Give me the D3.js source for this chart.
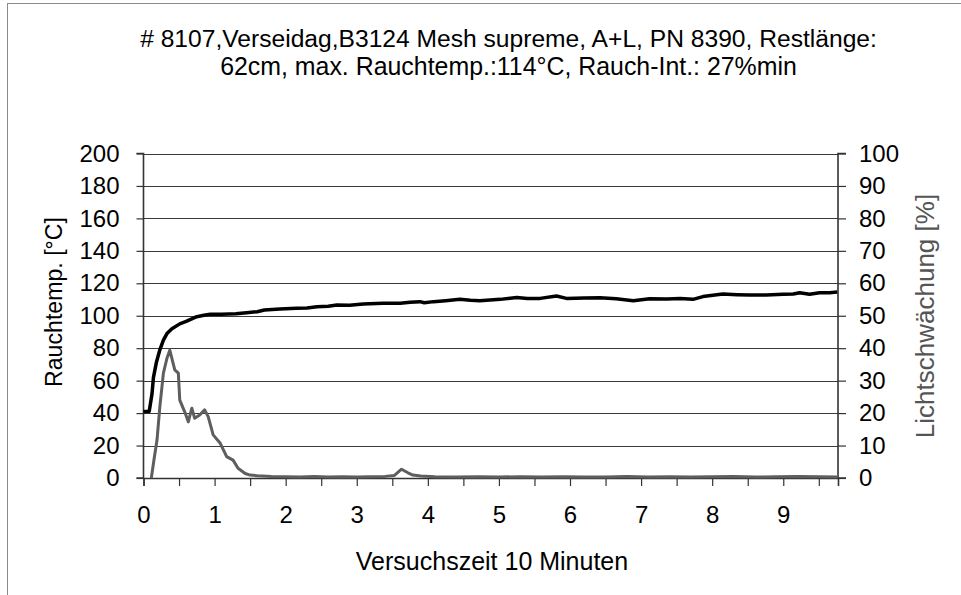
<!DOCTYPE html>
<html><head><meta charset="utf-8">
<script src="https://cdn.jsdelivr.net/npm/d3@7"></script>
<style>
html,body{margin:0;padding:0;background:#fff;}
text{font-family:"Liberation Sans",Arial,sans-serif;}
</style></head>
<body>
<svg id="c" width="961" height="595"></svg>
<script>
// ---- data ----
const titleLines = ["# 8107,Verseidag,B3124 Mesh supreme, A+L, PN 8390, Restlänge:",
                    "62cm, max. Rauchtemp.:114°C,  Rauch-Int.: 27%min"];
const xLabel = "Versuchszeit 10 Minuten";
const yLeftLabel = "Rauchtemp. [°C]";
const yRightLabel = "Lichtschwächung [%]";
const xTickLabels = [0,1,2,3,4,5,6,7,8,9];
const yLeftTicks = [0,20,40,60,80,100,120,140,160,180,200];
const yRightTicks = [0,10,20,30,40,50,60,70,80,90,100];

// Rauchtemperatur [°C] : [minutes, value]
const tempTime = [0,0.08,0.12,0.14,0.18,0.23,0.28,0.33,0.4,0.51,0.6,0.75,0.85,0.94,1.1,1.3,1.45,1.6,1.7,1.92,2.15,2.3,2.44,2.6,2.72,2.9,3.09,3.37,3.61,3.75,3.89,3.95,4.08,4.25,4.45,4.6,4.73,5.02,5.25,5.4,5.58,5.81,5.95,6.2,6.42,6.65,6.89,7.12,7.36,7.55,7.73,7.87,8.15,8.35,8.53,8.76,9.0,9.14,9.23,9.37,9.51,9.65,9.76];
const tempValues = [41,41,52,62,71,79,85,89,92,95,96.5,99.4,100.3,101,101,101.2,101.9,102.5,103.5,104.2,104.6,104.8,105.6,105.8,106.6,106.5,107.2,107.7,107.7,108.3,108.7,108,108.7,109.3,110.1,109.6,109.3,110.1,111.3,110.6,110.7,112.2,110.7,111,111.1,110.5,109.3,110.5,110.3,110.6,110.1,111.8,113.4,113,112.8,112.8,113.2,113.4,114.2,113.3,114.2,114.2,114.6];

// Lichtschwächung [%]
const lightTime = [0.11,0.15,0.19,0.23,0.28,0.33,0.37,0.44,0.49,0.51,0.58,0.63,0.68,0.72,0.79,0.86,0.91,0.98,1.08,1.17,1.26,1.33,1.43,1.5,1.6,1.8,2.0,2.2,2.4,2.6,2.8,3.0,3.2,3.4,3.53,3.63,3.72,3.79,3.9,4.1,4.4,4.7,5.0,5.3,5.6,5.9,6.2,6.5,6.8,7.1,7.4,7.7,8.0,8.3,8.6,8.9,9.2,9.5,9.76];
const lightValues = [0,6,11.7,22,32.3,36.9,39.4,33.3,32.3,24,20.4,17.3,21.5,18.4,19.4,21,18.9,13.3,10.7,6.6,5.5,3,1.4,0.9,0.7,0.5,0.4,0.3,0.5,0.3,0.4,0.3,0.4,0.5,0.8,2.7,1.6,0.9,0.6,0.4,0.3,0.4,0.3,0.4,0.3,0.4,0.3,0.3,0.5,0.3,0.4,0.3,0.4,0.5,0.3,0.4,0.5,0.4,0.3];

// ---- layout ----
const svg = d3.select("#c");
const L = 143.5, R = 838, T = 153.5, B = 478;
const x = d3.scaleLinear().domain([0, 9.77]).range([L, R]);
const yL = d3.scaleLinear().domain([0, 200]).range([B, T]);
const yR = d3.scaleLinear().domain([0, 100]).range([B, T]);

// fit font size so the natural text width matches a target width
function fit(sel, target, maxSize){
  sel.attr("font-size", 20);
  const len = sel.node().getComputedTextLength();
  let s = 20 * target / len;
  if (maxSize) s = Math.min(s, maxSize);
  sel.attr("font-size", s);
  return sel;
}

// outer frame
svg.append("rect").attr("x",7.5).attr("y",3.5).attr("width",970).attr("height",600)
  .attr("fill","none").attr("stroke","#8a8a8a").attr("stroke-width",1);

// gridlines
svg.append("g").selectAll("line").data(yLeftTicks).join("line")
  .attr("x1",L).attr("x2",R).attr("y1",d=>Math.round(yL(d))+0.5).attr("y2",d=>Math.round(yL(d))+0.5)
  .attr("stroke","#3a3a3a").attr("stroke-width",1);

// title
const title = svg.append("g");
[[46.7,0],[75,1]].forEach(([yy,i])=>{
  const t = title.append("text").attr("x",508.5).attr("y",yy).attr("text-anchor","middle")
    .attr("fill","#000").text(titleLines[i]);
  fit(t, i===0?737:577, 25);
});

// axes
const fs = 24;
const gx = svg.append("g").attr("transform",`translate(0,${B})`)
  .call(d3.axisBottom(x).tickValues(d3.range(0,9.51,0.5)).tickSize(8).tickPadding(20)
    .tickFormat(d => xTickLabels.includes(d) ? String(d) : ""));
const gl = svg.append("g").attr("transform",`translate(${L},0)`)
  .call(d3.axisLeft(yL).tickValues(yLeftTicks).tickSize(7).tickPadding(17).tickFormat(d=>String(d)));
const gr = svg.append("g").attr("transform",`translate(${R},0)`)
  .call(d3.axisRight(yR).tickValues(yRightTicks).tickSize(8).tickPadding(13).tickFormat(d=>String(d)));
[gx,gl,gr].forEach(g=>{
  g.select(".domain").attr("stroke","#333").attr("stroke-width",1.6);
  g.selectAll(".tick line").attr("stroke","#333").attr("stroke-width",1.2);
  g.selectAll(".tick text").attr("font-size",fs).attr("fill","#000")
    .attr("font-family",'"Liberation Sans",Arial,sans-serif');
});
gl.select(".domain").attr("d",`M-7,${B}H0V${T}H-7`);
gr.select(".domain").attr("d",`M8,${B}H0V${T}H8`);

// axis titles
fit(svg.append("text").attr("transform",`translate(62,302) rotate(-90)`).attr("text-anchor","middle")
  .attr("fill","#000").text(yLeftLabel), 170, 25);
fit(svg.append("text").attr("transform",`translate(934,316) rotate(-90)`).attr("text-anchor","middle")
  .attr("fill","#555").text(yRightLabel), 248, 26);
fit(svg.append("text").attr("x",492).attr("y",570).attr("text-anchor","middle")
  .attr("fill","#000").text(xLabel), 280, 25);

// lines
const lightData = lightTime.map((t,i)=>[t, lightValues[i]]);
const tempData = tempTime.map((t,i)=>[t, tempValues[i]]);
svg.append("path").datum(lightData)
  .attr("d", d3.line().x(d=>x(d[0])).y(d=>yR(d[1])))
  .attr("fill","none").attr("stroke","#5e5e5e").attr("stroke-width",3).attr("stroke-linejoin","round");
svg.append("path").datum(tempData)
  .attr("d", d3.line().x(d=>x(d[0])).y(d=>yL(d[1])))
  .attr("fill","none").attr("stroke","#000").attr("stroke-width",3.5).attr("stroke-linejoin","round");
</script>
</body></html>
